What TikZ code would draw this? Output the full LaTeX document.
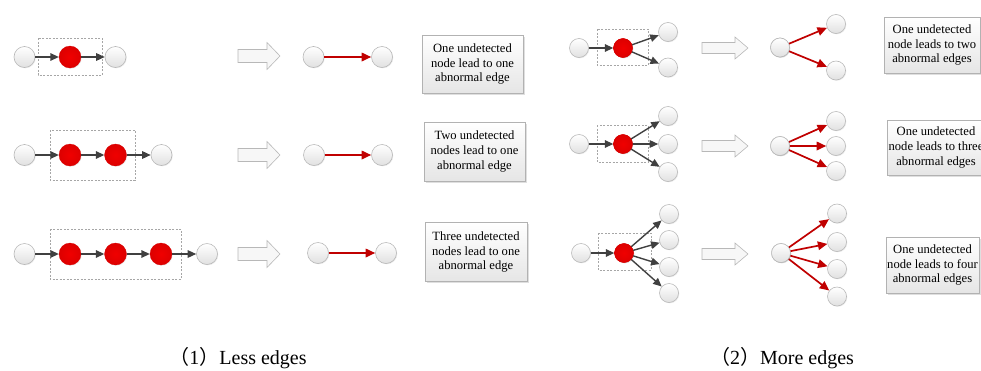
\documentclass[tikz,border=0pt]{standalone}
\usepackage{fontspec}
\setmainfont{Liberation Serif}
\newfontfamily\cjk{Noto Sans CJK SC}
\usetikzlibrary{arrows.meta,shadows}
\definecolor{darkred}{RGB}{192,0,0}
\definecolor{nodered}{RGB}{240,0,0}
\begin{document}
\begin{tikzpicture}[x=1pt,y=-1pt,
 wn/.style={circle,inner sep=0pt,minimum size=21pt,draw=black!28,line width=0.6pt,top color=white,bottom color=black!12,drop shadow={shadow xshift=0.8pt,shadow yshift=-0.8pt,opacity=0.15}},
 ws/.style={wn,minimum size=19pt},
 rn/.style={circle,inner sep=0pt,minimum size=22pt,draw=nodered!90!black,line width=0.3pt,inner color=nodered,outer color=nodered!92!black,drop shadow={shadow xshift=0.8pt,shadow yshift=-0.8pt,opacity=0.15}},
 rs/.style={rn,minimum size=19pt},
 darr/.style={draw=black!75,line width=1.4pt,-{Triangle[length=8.5pt,width=7.5pt]}},
 rarr/.style={draw=darkred,line width=1.7pt,-{Triangle[length=9.5pt,width=8.5pt]}},
 dbox/.style={draw=black!35,line width=0.6pt,dash pattern=on 2pt off 1.5pt},
 tbox/.style={draw=black!30,line width=0.6pt,top color=white,bottom color=black!10,drop shadow={shadow xshift=1.5pt,shadow yshift=-1.5pt,opacity=0.25},align=center,font=\fontsize{12.6}{14.6}\selectfont,inner sep=0pt},
 harr/.style={draw=black!28,line width=0.6pt,fill=black!3},
 captxt/.style={font=\fontsize{20}{22}\selectfont},
 harrowa/.pic={\draw[harr] (0,-6.5) -- (29,-6.5) -- (29,-13.5) -- (42,0) -- (29,13.5) -- (29,6.5) -- (0,6.5) -- cycle;},
 harrowb/.pic={\draw[harr] (0,-5.5) -- (33,-5.5) -- (33,-11) -- (46,0) -- (33,11) -- (33,5.5) -- (0,5.5) -- cycle;}
]
\useasboundingbox (0,0) rectangle (981,370);
\clip (0,0) rectangle (981,370);

% ---------------- Panel (1) ----------------
% Row 1
\draw[dbox] (38,38) rectangle (102,75);
\node[wn] (a1) at (24.5,57) {};
\node[rn] (a2) at (70,57) {};
\node[wn] (a3) at (115.5,57) {};
\draw[darr] (a1) -- (a2);
\draw[darr] (a2) -- (a3);
\pic at (238,56) {harrowa};
\node[wn] (a4) at (313.5,57) {};
\node[wn] (a5) at (382,57) {};
\draw[rarr] (a4) -- (a5);
\node[tbox,minimum width=101pt,minimum height=58pt] (ta) at (472.5,64) {One undetected\\node lead to one\\abnormal edge};

% Row 2
\draw[dbox] (50,130) rectangle (135,180);
\node[wn] (b1) at (24.5,155) {};
\node[rn] (b2) at (70,155) {};
\node[rn] (b3) at (115.5,155) {};
\node[wn] (b4) at (161.5,155) {};
\draw[darr] (b1) -- (b2);
\draw[darr] (b2) -- (b3);
\draw[darr] (b3) -- (b4);
\pic at (238,155) {harrowa};
\node[wn] (b5) at (314,155) {};
\node[wn] (b6) at (382,155) {};
\draw[rarr] (b5) -- (b6);
\node[tbox,minimum width=101pt,minimum height=59pt] (tb) at (474.5,151.5) {Two undetected\\nodes lead to one\\abnormal edge};

% Row 3
\draw[dbox] (50,229) rectangle (181,279);
\node[wn] (c1) at (24.5,254) {};
\node[rn] (c2) at (70,254) {};
\node[rn] (c3) at (115.5,254) {};
\node[rn] (c4) at (161,254) {};
\node[wn] (c5) at (207,254) {};
\draw[darr] (c1) -- (c2);
\draw[darr] (c2) -- (c3);
\draw[darr] (c3) -- (c4);
\draw[darr] (c4) -- (c5);
\pic at (238,254) {harrowa};
\node[wn] (c6) at (318,253) {};
\node[wn] (c7) at (386,253) {};
\draw[rarr] (c6) -- (c7);
\node[tbox,minimum width=102pt,minimum height=59pt] (tc) at (476,252) {Three undetected\\nodes lead to one\\abnormal edge};

% ---------------- Panel (2) ----------------
% Row 1
\draw[dbox] (597,29) rectangle (648,65);
\node[ws] (d1) at (579,48) {};
\node[rs] (d2) at (623,48) {};
\node[ws] (d3) at (668,32) {};
\node[ws] (d4) at (668,67.5) {};
\draw[darr] (d1) -- (d2);
\draw[darr] (d2.center) -- (d3);
\draw[darr] (d2.center) -- (d4);
\node[rs] at (d2) {};
\pic at (702,48) {harrowb};
\node[ws] (d5) at (780,47.5) {};
\node[ws] (d6) at (836,24) {};
\node[ws] (d7) at (836,70.5) {};
\draw[rarr] (d5.center) -- (d6);
\draw[rarr] (d5.center) -- (d7);
\node[ws] at (d5) {};
\node[tbox,minimum width=96pt,minimum height=56pt] (td) at (932,45) {One undetected\\node leads to two\\abnormal edges};

% Row 2
\draw[dbox] (597,125) rectangle (648,162);
\node[ws] (e1) at (579,144) {};
\node[rs] (e2) at (623,144) {};
\node[ws] (e3) at (668,116) {};
\node[ws] (e4) at (668,144) {};
\node[ws] (e5) at (668,172) {};
\draw[darr] (e1) -- (e2);
\draw[darr] (e2.center) -- (e3);
\draw[darr] (e2.center) -- (e4);
\draw[darr] (e2.center) -- (e5);
\node[rs] at (e2) {};
\pic at (702,146) {harrowb};
\node[ws] (e6) at (780,146) {};
\node[ws] (e7) at (836,121) {};
\node[ws] (e8) at (836,146) {};
\node[ws] (e9) at (836,171) {};
\draw[rarr] (e6.center) -- (e7);
\draw[rarr] (e6.center) -- (e8);
\draw[rarr] (e6.center) -- (e9);
\node[ws] at (e6) {};
\node[tbox,minimum width=98pt,minimum height=55pt] (te) at (936,147.5) {One undetected\\node leads to three\\abnormal edges};

% Row 3
\draw[dbox] (598,233) rectangle (651,270);
\node[ws] (f1) at (581,253) {};
\node[rs] (f2) at (624,253) {};
\node[ws] (f3) at (669,214) {};
\node[ws] (f4) at (669,240) {};
\node[ws] (f5) at (669,267) {};
\node[ws] (f6) at (669,293) {};
\draw[darr] (f1) -- (f2);
\draw[darr] (f2.center) -- (f3);
\draw[darr] (f2.center) -- (f4);
\draw[darr] (f2.center) -- (f5);
\draw[darr] (f2.center) -- (f6);
\node[rs] at (f2) {};
\pic at (702,254) {harrowb};
\node[ws] (f7) at (781,253) {};
\node[ws] (f8) at (837,213.5) {};
\node[ws] (f9) at (837,242) {};
\node[ws] (f10) at (837,269) {};
\node[ws] (f11) at (837,296.5) {};
\draw[rarr] (f7.center) -- (f8);
\draw[rarr] (f7.center) -- (f9);
\draw[rarr] (f7.center) -- (f10);
\draw[rarr] (f7.center) -- (f11);
\node[ws] at (f7) {};
\node[tbox,minimum width=93pt,minimum height=56pt] (tf) at (932.5,265) {One undetected\\node leads to four\\abnormal edges};

% Captions
\node[captxt] (cap1) at (238,358) {{\cjk （}1{\cjk ）}Less edges};
\node[captxt] (cap2) at (782,358) {{\cjk （}2{\cjk ）}More edges};
\end{tikzpicture}
\end{document}
